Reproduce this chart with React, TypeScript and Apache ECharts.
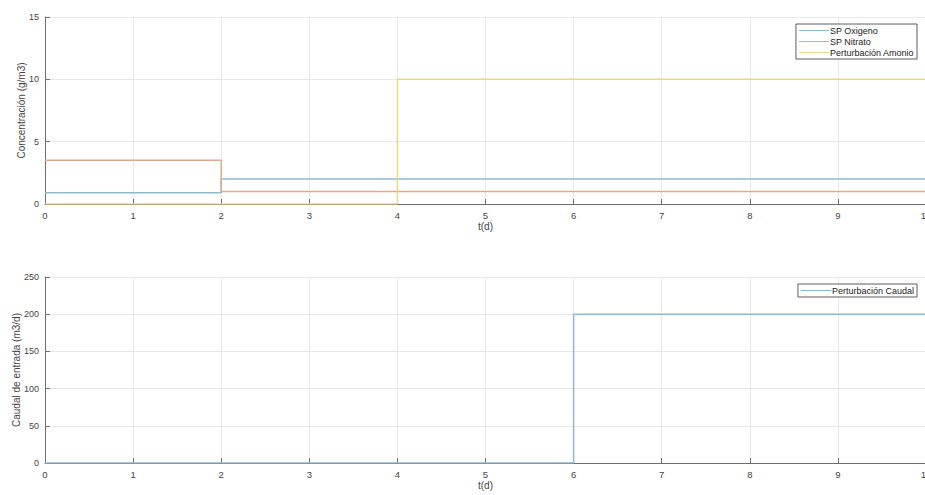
import React, { useEffect, useRef } from "react";
import * as echarts from "echarts";

const stepTimesOxygen = [0, 2, 10];
const oxygenSP = [0.9, 2, 2];
const stepTimesNitrate = [0, 2, 10];
const nitrateSP = [3.5, 1, 1];
const stepTimesAmmonia = [0, 4, 10];
const ammoniaDist = [0, 10, 10];
const stepTimesFlow = [0, 6, 10];
const flowDist = [0, 200, 200];

const xTicks = { min: 0, max: 10, interval: 1 };
const topY = { min: 0, max: 15, interval: 5 };
const bottomY = { min: 0, max: 250, interval: 50 };

const FONT = "Liberation Sans";
const C_BLUE = "#8dbad0";
const C_ORANGE = "#dbab8e";
const C_YELLOW = "#e8d68c";

const pair = (t: number[], v: number[]) => t.map((x, i) => [x, v[i]]);

export default function App() {
  const ref = useRef<HTMLDivElement>(null);
  useEffect(() => {
    if (!ref.current) return;
    const chart = echarts.init(ref.current, null, { renderer: "svg" });
    const axisCommonX = (gi: number) => ({
      type: "value",
      gridIndex: gi,
      min: xTicks.min,
      max: xTicks.max,
      interval: xTicks.interval,
      name: "t(d)",
      nameLocation: "middle",
      nameGap: 17,
      nameTextStyle: { color: "#444", fontSize: 10, fontFamily: FONT },
      axisLine: { show: true, onZero: false, lineStyle: { color: "#6e6e6e", width: 1 } },
      axisTick: { show: true, inside: true, length: 5, lineStyle: { color: "#6e6e6e" } },
      axisLabel: { color: "#444", fontSize: 9.5, fontFamily: FONT, margin: 6 },
      splitLine: { show: true, lineStyle: { color: "#e8e8e8", width: 1 } },
    });
    const axisCommonY = (gi: number, r: any, name: string, gap: number) => ({
      type: "value",
      gridIndex: gi,
      min: r.min,
      max: r.max,
      interval: r.interval,
      name,
      nameLocation: "middle",
      nameGap: gap,
      nameMoveOverlap: false,
      nameTextStyle: { color: "#444", fontSize: 10, fontFamily: FONT },
      axisLine: { show: true, lineStyle: { color: "#6e6e6e", width: 1 } },
      axisTick: { show: true, inside: true, length: 5, lineStyle: { color: "#6e6e6e" } },
      axisLabel: { color: "#444", fontSize: 9, fontFamily: FONT, margin: 6 },
      splitLine: { show: true, lineStyle: { color: "#e8e8e8", width: 1 } },
    });
    const lineSeries = (name: string, data: any, color: string, gi: number) => ({
      name,
      type: "line",
      step: "end",
      xAxisIndex: gi,
      yAxisIndex: gi,
      data,
      showSymbol: false,
      symbol: "none",
      lineStyle: { color, width: 1.5 },
      itemStyle: { color },
    });
    const legendCommon = {
      orient: "vertical",
      icon: "rect",
      itemWidth: 30,
      itemHeight: 1,
      itemGap: 2,
      backgroundColor: "#fff",
      borderColor: "#333",
      borderWidth: 0.8,
      borderRadius: 0,
      padding: [2, 3, 2, 3],
      textStyle: { color: "#222", fontSize: 9, fontFamily: FONT, padding: [0, 0, 0, -4] },
    };
    chart.setOption({
      animation: false,
      backgroundColor: "#fff",
      grid: [
        { left: 45, right: -1, top: 17, height: 187, outerBoundsMode: "none", containLabel: false },
        { left: 45, right: -1, top: 277, height: 186, outerBoundsMode: "none", containLabel: false },
      ],
      xAxis: [axisCommonX(0), axisCommonX(1)],
      yAxis: [
        axisCommonY(0, topY, "Concentración (g/m3)", 19),
        axisCommonY(1, bottomY, "Caudal de entrada (m3/d)", 24),
      ],
      legend: [
        {
          ...legendCommon,
          right: 8,
          top: 24,
          data: ["SP Oxigeno", "SP Nitrato", "Perturbación Amonio"],
        },
        {
          ...legendCommon,
          right: 8,
          top: 284,
          data: ["Perturbación Caudal"],
        },
      ],
      series: [
        lineSeries("SP Oxigeno", pair(stepTimesOxygen, oxygenSP), C_BLUE, 0),
        lineSeries("SP Nitrato", pair(stepTimesNitrate, nitrateSP), C_ORANGE, 0),
        lineSeries("Perturbación Amonio", pair(stepTimesAmmonia, ammoniaDist), C_YELLOW, 0),
        lineSeries("Perturbación Caudal", pair(stepTimesFlow, flowDist), C_BLUE, 1),
      ],
    });
    return () => chart.dispose();
  }, []);
  return <div ref={ref} style={{ width: 925, height: 495, position: "absolute", left: 0, top: 0 }} />;
}
